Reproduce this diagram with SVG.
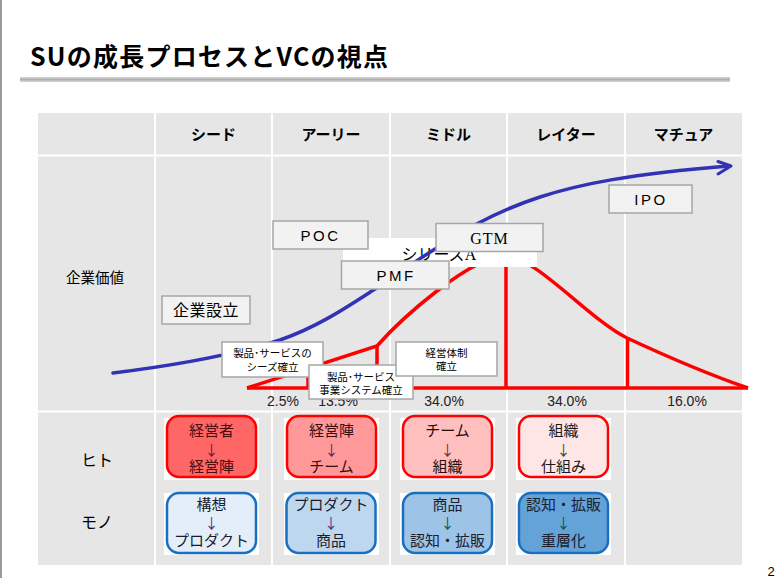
<svg xmlns="http://www.w3.org/2000/svg" width="777" height="578" viewBox="0 0 777 578">
<style>
.jp{font-family:"Noto Sans CJK JP","Noto Sans",sans-serif}
.hdr{font-family:"Noto Sans CJK JP",sans-serif;font-size:15px;font-weight:bold;fill:#000;text-anchor:middle}
.lbl{fill:#f2f2f2;stroke:#a6a6a6;stroke-width:1.5}
.note{fill:#fff;stroke:#a6a6a6;stroke-width:1.5}
.nt{font-family:"Noto Sans CJK JP",sans-serif;font-size:10.5px;fill:#000;text-anchor:middle}
.pct{font-family:"Liberation Sans","Noto Sans CJK JP",sans-serif;font-size:14px;fill:#222;text-anchor:middle}
.grid{stroke:#fff;stroke-width:2}
.red{fill:none;stroke:#ff0000;stroke-width:3.5}
.bx{font-family:"Noto Sans CJK JP",sans-serif;font-size:15px;text-anchor:middle}
.ar{font-size:14px}
.hb{stroke:#ff0000;stroke-width:2.5}
.mb{stroke:#1a6fc0;stroke-width:2.5}
</style>
<rect x="0" y="0" width="777" height="578" fill="#fff"/>
<line x1="1" y1="0" x2="1" y2="578" stroke="#9a9a9a" stroke-width="2"/>
<g id="title">
<text x="30" y="66" font-family="'Noto Sans CJK JP',sans-serif" font-size="25" font-weight="bold" textLength="358" lengthAdjust="spacing">SUの成長プロセスとVCの視点</text>
<rect x="20" y="77" width="710" height="5" fill="#d0d0d0"/>
<rect x="20" y="78.5" width="710" height="2" fill="#b0b0b0"/>
</g>
<g id="table">
<rect x="38" y="113" width="704" height="452" fill="#e6e6e6"/>
<line class="grid" x1="38" y1="155.5" x2="742" y2="155.5"/>
<line class="grid" x1="38" y1="411.5" x2="742" y2="411.5"/>
<line class="grid" x1="155" y1="113" x2="155" y2="565"/>
<line class="grid" x1="272" y1="113" x2="272" y2="565"/>
<line class="grid" x1="390" y1="113" x2="390" y2="565"/>
<line class="grid" x1="507" y1="113" x2="507" y2="565"/>
<line class="grid" x1="625" y1="113" x2="625" y2="565"/>
<text class="hdr" x="213.5" y="140">シード</text>
<text class="hdr" x="331" y="140">アーリー</text>
<text class="hdr" x="448.5" y="140">ミドル</text>
<text class="hdr" x="566" y="140">レイター</text>
<text class="hdr" x="683.5" y="140">マチュア</text>
<text class="jp" x="95" y="283" font-size="14.5" text-anchor="middle">企業価値</text>
<text class="jp" x="97" y="466" font-size="16" text-anchor="middle">ヒト</text>
<text class="jp" x="97" y="528" font-size="16" text-anchor="middle">モノ</text>
</g>
<g id="connectors">
<g id="red-curve">
<path class="red" d="M247,388 L748,388"/>
<path class="red" d="M247,388 L377,346 C400,320 470,256 506,256 C535,256 590,320 627,338 C670,358 710,375 748,388"/>
<path class="red" d="M308,368 V388 M377,346 V388 M506,256 V388 M627.5,338 V388"/>
</g>
<g id="seriesA">
<rect x="343" y="238" width="194" height="29" fill="#fff"/>
<text x="439" y="260" font-family="'Liberation Serif','Noto Sans CJK JP',serif" font-size="16" text-anchor="middle">シリーズA</text>
</g>
<g id="blue-curve" fill="none" stroke="#3232b4" stroke-width="3.5" stroke-linecap="round" stroke-linejoin="round">
<path d="M113,373 C170,366 230,356 280,340 C320,326 350,305 375,289 C400,272 420,258 440,246 C470,226 500,210 540,197 C580,184 630,174 729,166"/>
<polyline points="718,161.5 731,166 718,174" stroke-width="3"/>
</g>
</g>
<g id="poc"><rect class="lbl" x="273" y="221" width="95" height="28"/><text x="320.5" y="241" font-family="'Liberation Sans',sans-serif" font-size="15" letter-spacing="2.5" text-anchor="middle">POC</text></g>
<g id="pmf"><rect class="lbl" x="341.5" y="261" width="107.5" height="28"/><text x="396" y="281" font-family="'Liberation Sans',sans-serif" font-size="15" letter-spacing="2.5" text-anchor="middle">PMF</text></g>
<g id="gtm"><rect class="lbl" x="436" y="223.5" width="107" height="28"/><text x="489.5" y="243.5" font-family="'Liberation Serif',serif" font-size="16" letter-spacing="1" text-anchor="middle">GTM</text></g>
<g id="ipo"><rect class="lbl" x="609" y="185" width="83" height="28"/><text x="651" y="205" font-family="'Liberation Sans',sans-serif" font-size="15" letter-spacing="2.5" text-anchor="middle">IPO</text></g>
<g id="kigyou"><rect class="lbl" x="162" y="296" width="88" height="28"/><text class="jp" x="206" y="316" font-size="16" text-anchor="middle" letter-spacing="0.5">企業設立</text></g>
<g id="percent">
<text class="pct" x="283" y="406">2.5%</text>
<text class="pct" x="338" y="406">13.5%</text>
<text class="pct" x="444" y="406">34.0%</text>
<text class="pct" x="567" y="406">34.0%</text>
<text class="pct" x="687" y="406">16.0%</text>
</g>
<g id="note1"><rect class="note" x="222" y="342" width="101" height="35"/><text class="nt" x="272.5" y="357">製品･サービスの</text><text class="nt" x="272.5" y="371">シーズ確立</text></g>
<g id="note2"><rect class="note" x="309" y="365" width="104" height="34"/><text class="nt" x="361" y="381">製品･サービス</text><text class="nt" x="361" y="394">事業システム確立</text></g>
<g id="note3"><rect class="note" x="396" y="342" width="101" height="34"/><text class="nt" x="446.5" y="357">経営体制</text><text class="nt" x="446.5" y="370">確立</text></g>
<g id="hito1"><rect x="164" y="418" width="95" height="62" fill="#fff"/><rect class="hb" x="167" y="416" width="89" height="61" rx="12" fill="#ff6666"/><text class="bx" x="211.5" fill="#4a0c0c"><tspan x="211.5" y="436">経営者</tspan><tspan class="ar" x="211.5" y="455" fill="#7a1040">↓</tspan><tspan x="211.5" y="472">経営陣</tspan></text></g>
<g id="hito2"><rect x="284" y="418" width="95" height="62" fill="#fff"/><rect class="hb" x="287" y="416" width="89" height="61" rx="12" fill="#ff9999"/><text class="bx" x="331.5" fill="#3a0c0c"><tspan x="331.5" y="436">経営陣</tspan><tspan class="ar" x="331.5" y="455" fill="#602060">↓</tspan><tspan x="331.5" y="472">チーム</tspan></text></g>
<g id="hito3"><rect x="400" y="418" width="95" height="62" fill="#fff"/><rect class="hb" x="403" y="416" width="89" height="61" rx="12" fill="#ffbfbf"/><text class="bx" x="447.5" fill="#2a0a0a"><tspan x="447.5" y="436">チーム</tspan><tspan class="ar" x="447.5" y="455" fill="#802030">↓</tspan><tspan x="447.5" y="472">組織</tspan></text></g>
<g id="hito4"><rect x="516" y="418" width="95" height="62" fill="#fff"/><rect class="hb" x="519" y="416" width="89" height="61" rx="12" fill="#ffe6e6"/><text class="bx" x="563.5" fill="#1a1a1a"><tspan x="563.5" y="436">組織</tspan><tspan class="ar" x="563.5" y="455" fill="#205030">↓</tspan><tspan x="563.5" y="472">仕組み</tspan></text></g>
<g id="mono1"><rect x="164" y="493" width="95" height="62" fill="#fff"/><rect class="mb" x="167" y="493" width="89" height="60" rx="12" fill="#e3eef8"/><text class="bx" x="211.5" fill="#1a1a2a"><tspan x="211.5" y="510">構想</tspan><tspan class="ar" x="211.5" y="528" fill="#5a2a8a">↓</tspan><tspan x="211.5" y="546">プロダクト</tspan></text></g>
<g id="mono2"><rect x="284" y="493" width="95" height="62" fill="#fff"/><rect class="mb" x="286.5" y="493" width="89" height="60" rx="12" fill="#bdd7ee"/><text class="bx" x="331" fill="#1a1a2a"><tspan x="331" y="510">プロダクト</tspan><tspan class="ar" x="331" y="528" fill="#5a2a8a">↓</tspan><tspan x="331" y="546">商品</tspan></text></g>
<g id="mono3"><rect x="400" y="493" width="95" height="62" fill="#fff"/><rect class="mb" x="403" y="493" width="89" height="60" rx="12" fill="#9dc3e6"/><text class="bx" x="447.5" fill="#1a2030"><tspan x="447.5" y="510">商品</tspan><tspan class="ar" x="447.5" y="528" fill="#1a5040">↓</tspan><tspan x="447.5" y="546">認知・拡販</tspan></text></g>
<g id="mono4"><rect x="516" y="493" width="95" height="62" fill="#fff"/><rect class="mb" x="519" y="493" width="89" height="60" rx="12" fill="#64a3d8"/><text class="bx" x="563.5" fill="#1a2030"><tspan x="563.5" y="510">認知・拡販</tspan><tspan class="ar" x="563.5" y="528" fill="#1a5040">↓</tspan><tspan x="563.5" y="546">重層化</tspan></text></g>
<text x="771" y="576" font-family="'Liberation Sans',sans-serif" font-size="13" text-anchor="middle">2</text>
</svg>
